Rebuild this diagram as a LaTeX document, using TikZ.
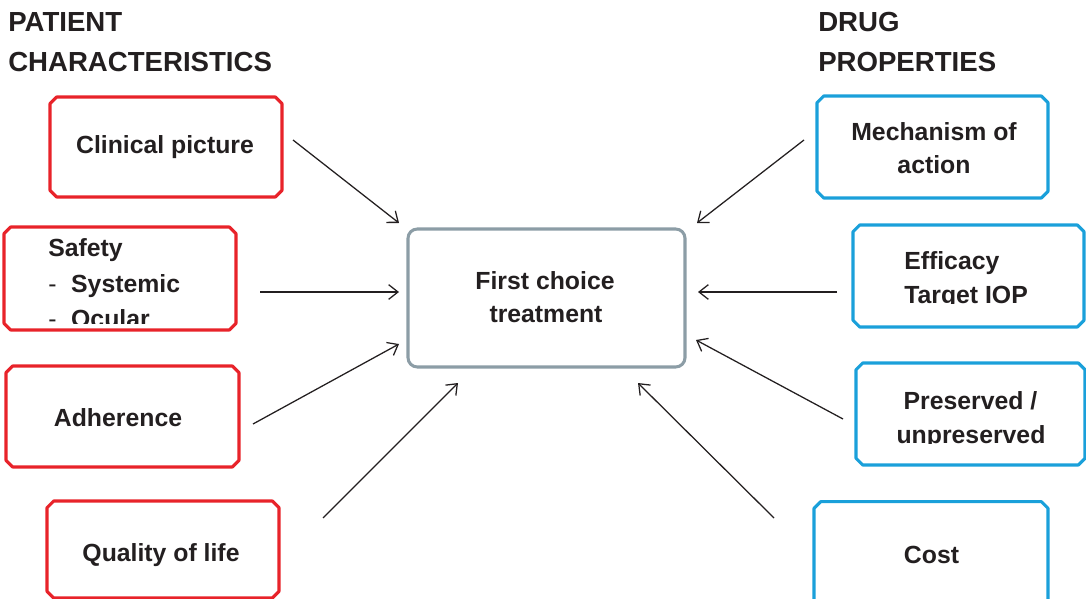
\documentclass[tikz,border=0pt]{standalone}
\usepackage{fontspec}
\setmainfont{Liberation Sans}
\usetikzlibrary{arrows.meta}
\definecolor{boxred}{HTML}{E8232A}
\definecolor{boxblue}{HTML}{1AA0DA}
\definecolor{boxgray}{HTML}{8C9DA6}
\definecolor{ink}{HTML}{231F20}
% outline of a box with cut-off corners, drawn round a named node
\newcommand\cutcorners[2]{%
  \draw[#2] ([xshift=5pt]#1.north west) -- ([xshift=-5pt]#1.north east)
    -- ([yshift=-5pt]#1.north east) -- ([yshift=5pt]#1.south east)
    -- ([xshift=-5pt]#1.south east) -- ([xshift=5pt]#1.south west)
    -- ([yshift=5pt]#1.south west) -- ([yshift=-5pt]#1.north west) -- cycle;}
\begin{document}
\begin{tikzpicture}[x=0.75pt,y=-0.75pt,
  card/.style={rectangle, inner sep=0pt, outer sep=0pt},
  cardline/.style={line width=2.3pt, line join=round},
  patientline/.style={cardline, draw=boxred},
  drugline/.style={cardline, draw=boxblue},
  hub/.style={rectangle, rounded corners=7pt, draw=boxgray, line width=2.3pt, inner sep=0pt},
  boxtext/.style={font=\bfseries\fontsize{18.6}{22}\selectfont, text=ink, inner sep=0pt, anchor=base},
  lefttext/.style={boxtext, anchor=base west},
  heading/.style={font=\bfseries\fontsize{20.7}{25}\selectfont, text=ink, inner sep=0pt, anchor=base west},
  link/.style={draw=ink, line width=0.95pt, -{Straight Barb[length=7pt,width=11pt]}}
]
\useasboundingbox (0,0) rectangle (1086,599);

% column headings
\node[heading] (ph1) at (8,32) {PATIENT};
\node[heading] (ph2) at (8,72) {CHARACTERISTICS};
\node[heading] (dh1) at (818,32) {DRUG};
\node[heading] (dh2) at (818,72) {PROPERTIES};

% patient characteristics
\node[card, minimum width=174pt, minimum height=75pt] (clin) at (166,147) {};
\cutcorners{clin}{patientline}
\node[boxtext] (clint) at (165,154) {Clinical picture};

\node[card, minimum width=174pt, minimum height=77.25pt] (safe) at (120,278.5) {};
\cutcorners{safe}{patientline}
\begin{scope}
  \clip (0,224) rectangle (240,323);
  \node[lefttext] (safe1) at (48,257) {Safety};
  \node[lefttext] (safe2) at (48,292) {{\mdseries -}\hspace{11pt}Systemic};
  \node[lefttext] (safe3) at (48,327) {{\mdseries -}\hspace{11pt}Ocular};
\end{scope}

\node[card, minimum width=174.75pt, minimum height=75.75pt] (adh) at (122.5,416.5) {};
\cutcorners{adh}{patientline}
\node[boxtext] (adht) at (118,426) {Adherence};

\node[card, minimum width=174pt, minimum height=72.75pt] (qol) at (163,549.5) {};
\cutcorners{qol}{patientline}
\node[boxtext] (qolt) at (161,561) {Quality of life};

% central decision
\node[hub, minimum width=207.75pt, minimum height=103.5pt] (first) at (546.5,298) {};
\node[boxtext] (first1) at (545,290) {First choice};
\node[boxtext] (first2) at (546,322) {treatment};

% drug properties
\node[card, minimum width=173.25pt, minimum height=76.5pt] (mech) at (932.5,147) {};
\cutcorners{mech}{drugline}
\node[boxtext] (mech1) at (934,141) {Mechanism of};
\node[boxtext] (mech2) at (934,174) {action};

\node[card, minimum width=173.25pt, minimum height=76.5pt] (eff) at (968.5,276) {};
\cutcorners{eff}{drugline}
\begin{scope}
  \clip (850,222) rectangle (1086,303);
  \node[lefttext] (eff1) at (904,269) {Efficacy};
  \node[lefttext] (eff2) at (904,303) {Target IOP};
\end{scope}

\node[card, minimum width=171.75pt, minimum height=76.5pt] (pres) at (970.5,414) {};
\cutcorners{pres}{drugline}
\begin{scope}
  \clip (850,360) rectangle (1086,443);
  \node[boxtext] (pres1) at (970.5,409) {Preserved /};
  \node[boxtext] (pres2) at (971,443) {unpreserved};
\end{scope}

\node[card, minimum width=175.5pt, minimum height=80pt] (cost) at (931,555) {};
\cutcorners{cost}{drugline}
\node[boxtext] (costt) at (931.5,563) {Cost};

% free arrow ends around the central box
\coordinate (a1s) at (293,140);  \coordinate (a1e) at (399,223);
\coordinate (a2s) at (260,292);  \coordinate (a2e) at (399,292);
\coordinate (a3s) at (253,424);  \coordinate (a3e) at (399,344);
\coordinate (a4s) at (323,518);  \coordinate (a4e) at (458,383);
\coordinate (b1s) at (804,140);  \coordinate (b1e) at (697,223);
\coordinate (b2s) at (837,292);  \coordinate (b2e) at (698,292);
\coordinate (b3s) at (843,419);  \coordinate (b3e) at (696,340);
\coordinate (b4s) at (774,518);  \coordinate (b4e) at (638,383);

\draw[link] (a1s) -- (a1e);
\draw[link] (a2s) -- (a2e);
\draw[link] (a3s) -- (a3e);
\draw[link] (a4s) -- (a4e);
\draw[link] (b1s) -- (b1e);
\draw[link] (b2s) -- (b2e);
\draw[link] (b3s) -- (b3e);
\draw[link] (b4s) -- (b4e);
\end{tikzpicture}
\end{document}
